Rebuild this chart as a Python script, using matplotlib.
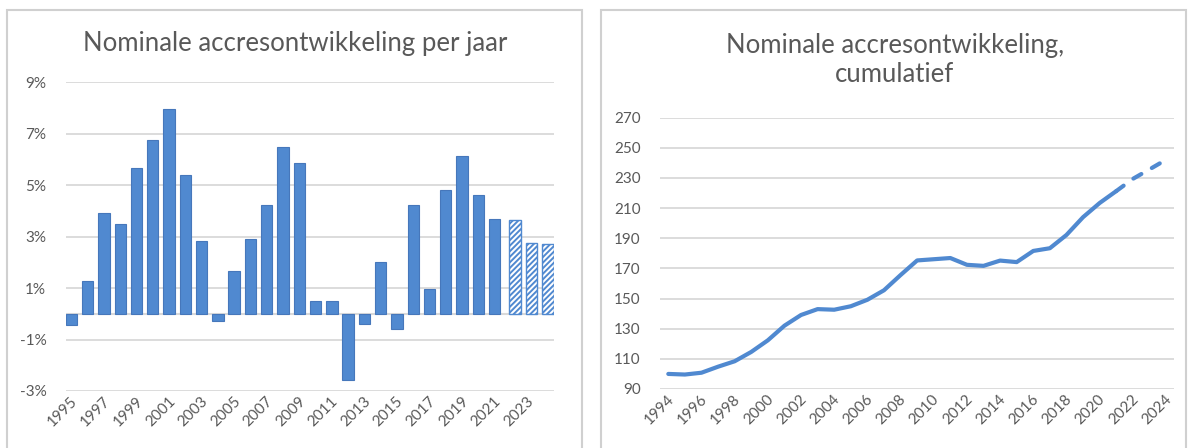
import numpy as np
import matplotlib.pyplot as plt
from matplotlib.patches import Rectangle

plt.rcParams['font.family'] = ['Lato', 'DejaVu Sans']
plt.rcParams['hatch.linewidth'] = 1.4

# jaarlijkse accres (%), gerealiseerd en raming
years_real = list(range(1995, 2022))
growth_real = [-0.45, 1.28, 3.9, 3.47, 5.67, 6.73, 7.96, 5.37, 2.81, -0.3,
               1.65, 2.92, 4.23, 6.47, 5.85, 0.48, 0.48, -2.59, -0.38, 2.02,
               -0.58, 4.23, 0.98, 4.79, 6.13, 4.61, 3.69]
years_fc = [2022, 2023, 2024]
growth_fc = [3.65, 2.74, 2.70]
bar_ticks = list(range(1995, 2025, 2))
pct_ticks = [-3, -1, 1, 3, 5, 7, 9]

# cumulatief (1994 = 100)
years_cum = list(range(1994, 2022))
cum_real = [100, 99.6, 100.8, 104.8, 108.4, 114.6, 122.3, 132.0, 139.1, 143.0,
            142.6, 144.9, 149.2, 155.5, 165.6, 175.3, 176.1, 176.9, 172.4, 171.7,
            175.2, 174.2, 181.6, 183.4, 192.2, 204.0, 213.4, 221.3]
years_cum_fc = [2021, 2022, 2023, 2024]
cum_fc = [221.3, 229.4, 235.7, 242.1]
cum_ticks = list(range(1994, 2025, 2))
idx_ticks = list(range(90, 271, 20))

blue = '#5089d0'
edge = '#4677bb'
grid = '#d9d9d9'
txt = '#595959'

W, H = 1191, 448
fig = plt.figure(figsize=(W / 100, H / 100), dpi=100)

def fx(px):
    return px / W

def fy(py):
    return 1 - py / H

# kaders van de twee grafieken
for x0, x1 in [(7, 582), (601, 1186)]:
    fig.patches.append(Rectangle((fx(x0), fy(460)), fx(x1 - x0), fy(10) - fy(460),
                                 transform=fig.transFigure, fill=False,
                                 edgecolor='#d0d0d0', linewidth=1.5))

# ---- links: staafdiagram ----
ax1 = fig.add_axes([fx(65.7), fy(391), fx(554 - 65.7), fy(82) - fy(391)])
x_real = np.array(years_real) - 1995
x_fc = np.array(years_fc) - 1995
ax1.bar(x_real - 0.15, growth_real, width=0.7, color=blue, edgecolor=edge,
        linewidth=0.8, zorder=3)
ax1.bar(x_fc + 0.12, growth_fc, width=0.72, color='white', edgecolor=blue,
        hatch='//////', linewidth=1.0, zorder=3)
ax1.set_xlim(-0.5, 29.5)
ax1.set_ylim(-3, 9)
ax1.set_yticks(pct_ticks)
ax1.set_yticklabels([f'{v}%' for v in pct_ticks])
for v in pct_ticks:
    ax1.axhline(v, color=grid, linewidth=1.3, zorder=1)
ax1.axhline(0, color=grid, linewidth=1.5, zorder=2)
ax1.set_xticks(np.array(bar_ticks) - 1995 + 0.1)
ax1.set_xticklabels(bar_ticks, rotation=45, ha='right', va='center',
                    rotation_mode='anchor')
fig.text(fx(295), fy(43), 'Nominale accresontwikkeling per jaar',
         fontsize=18.5, color=txt, ha='center', va='center')

# ---- rechts: cumulatief ----
ax2 = fig.add_axes([fx(660), fy(389), fx(1174.3 - 660), fy(117.7) - fy(389)])
ax2.plot(years_cum, cum_real, color=blue, linewidth=3.0,
         solid_capstyle='round', zorder=3)
ln, = ax2.plot(years_cum_fc, cum_fc, color=blue, linewidth=3.0,
               dash_capstyle='round', zorder=3)
ln.set_dashes([2.2, 2.9])
ax2.set_xlim(1993.5, 2024.5)
ax2.set_ylim(90, 270)
ax2.set_yticks(idx_ticks)
for v in idx_ticks:
    ax2.axhline(v, color=grid, linewidth=1.3, zorder=1)
ax2.set_xticks(np.array(cum_ticks) + 0.2)
ax2.set_xticklabels(cum_ticks, rotation=45, ha='right', va='center',
                    rotation_mode='anchor')
fig.text(fx(895), fy(60), 'Nominale accresontwikkeling,\ncumulatief',
         fontsize=18.5, color=txt, ha='center', va='center', linespacing=1.15)

for ax in (ax1, ax2):
    for s in ax.spines.values():
        s.set_visible(False)
    ax.tick_params(length=0, labelsize=11, colors=txt)
    ax.tick_params(axis='y', pad=14)
    ax.tick_params(axis='x', pad=6)

fig.savefig('out.png', dpi=100)
